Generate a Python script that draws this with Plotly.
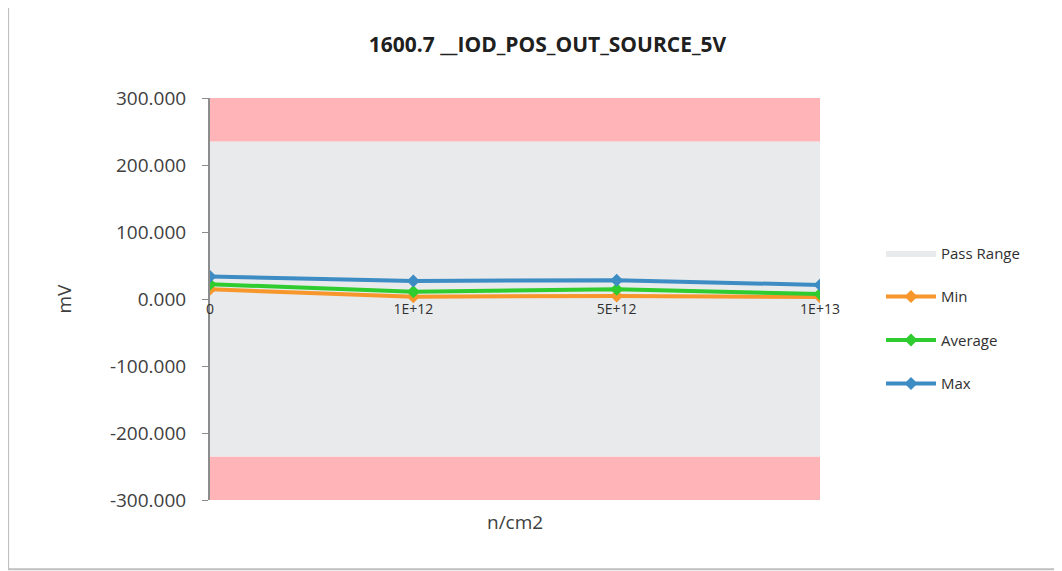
"""Radiation test summary chart: IOD_POS_OUT_SOURCE_5V vs fluence."""

import plotly.graph_objects as go

fluence = ["0", "1E+12", "5E+12", "1E+13"]
min_mv = [14.5, 3.5, 4.5, 3.0]
avg_mv = [22.0, 11.0, 14.5, 7.5]
max_mv = [33.5, 27.0, 28.0, 21.0]

plot_floor = [-300, -300, -300, -300]
pass_low = [-235, -235, -235, -235]
pass_high = [235, 235, 235, 235]
plot_ceil = [300, 300, 300, 300]

y_ticks = [-300, -200, -100, 0, 100, 200, 300]

PINK = "#FFB4B8"
GREY = "#E8EAEC"
FONT = "Open Sans"

fig = go.Figure()

# failure / pass bands drawn as stacked fills
fig.add_trace(go.Scatter(x=fluence, y=plot_floor, mode="lines", line=dict(width=0),
                         showlegend=False, hoverinfo="skip"))
fig.add_trace(go.Scatter(x=fluence, y=pass_low, mode="lines", line=dict(width=0),
                         fill="tonexty", fillcolor=PINK, showlegend=False, hoverinfo="skip"))
fig.add_trace(go.Scatter(x=fluence, y=pass_high, mode="lines", line=dict(width=0),
                         fill="tonexty", fillcolor=GREY, name="Pass Range", legendgroup="pass",
                         hoverinfo="skip"))
fig.add_trace(go.Scatter(x=fluence, y=plot_ceil, mode="lines", line=dict(width=0),
                         fill="tonexty", fillcolor=PINK, showlegend=False, hoverinfo="skip"))

series = [("Min", min_mv, "#F7962B"), ("Average", avg_mv, "#2ECC2E"), ("Max", max_mv, "#3D8CC4")]
for name, vals, color in series:
    fig.add_trace(go.Scatter(
        x=fluence, y=vals, mode="lines+markers", name=name, legendgroup=name,
        line=dict(color=color, width=4),
        marker=dict(symbol="diamond", size=10, color=color),
    ))

fig.update_layout(
    width=1062, height=571,
    margin=dict(l=202, r=250, t=90, b=79),
    paper_bgcolor="white", plot_bgcolor="white",
    font=dict(family=FONT, color="#404040"),
    title=dict(text="<b>1600.7 __IOD_POS_OUT_SOURCE_5V</b>", x=0.508, xanchor="center",
               y=0.935, yanchor="middle", font=dict(size=21, color="#202020")),
    legend=dict(x=1.1, y=0.655, xanchor="left", yanchor="top", font=dict(size=15, color="#303030"),
                traceorder="grouped", tracegroupgap=21, itemwidth=50, bgcolor="rgba(0,0,0,0)"),
    showlegend=True,
)
fig.update_xaxes(
    type="category", range=[0, 3], anchor="free", position=0.5,
    showline=False, showgrid=False, ticks="", tickfont=dict(size=14, color="#303030"),
    fixedrange=True,
)
fig.update_yaxes(
    range=[-300, 300], tickvals=y_ticks, ticktext=[f"{v:.3f}" for v in y_ticks],
    showgrid=False, zeroline=True, zerolinecolor="#8C8C8C", zerolinewidth=2,
    showline=True, linecolor="#8C8C8C", linewidth=2, ticks="outside", ticklen=6,
    tickcolor="#8C8C8C", tickfont=dict(size=19, color="#404040"), ticklabelstandoff=12,
    title=dict(text="mV", font=dict(size=19, color="#404040"), standoff=33),
)
fig.add_annotation(text="n/cm2", xref="paper", yref="paper", x=0.5, y=-0.055,
                   xanchor="center", yanchor="middle", showarrow=False,
                   font=dict(size=19, color="#404040"))
# chart border
fig.add_shape(type="rect", xref="paper", yref="paper",
              x0=-0.331, x1=1.393, y0=-0.172, y1=1.229,
              line=dict(color="#BFBFBF", width=2), fillcolor="rgba(0,0,0,0)", layer="below")

fig.write_html("out.html")
